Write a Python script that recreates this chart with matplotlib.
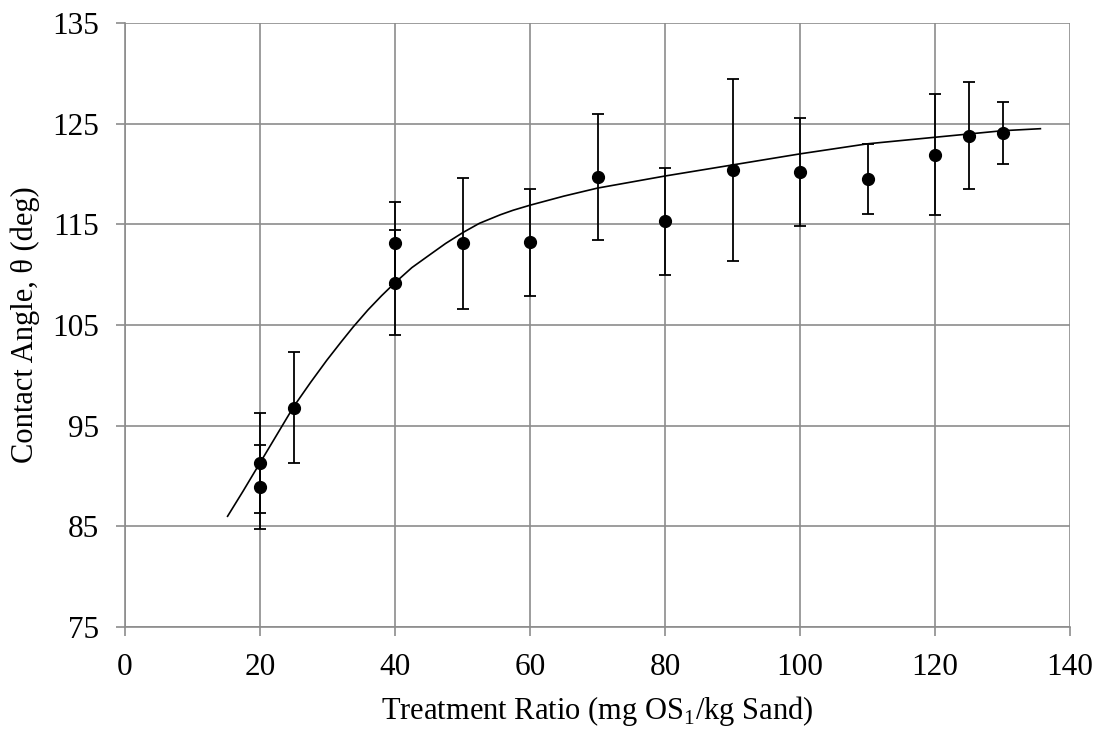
import numpy as np
import matplotlib.pyplot as plt

plt.rcParams['font.family'] = ['Liberation Serif', 'DejaVu Serif']
plt.rcParams['mathtext.fontset'] = 'custom'
plt.rcParams['mathtext.rm'] = 'Liberation Serif'

# measured points
ratio = [20, 20, 25, 40, 40, 50, 60, 70, 80, 90, 100, 110, 120, 125, 130]
angle = [91.3, 88.9, 96.8, 113.1, 109.2, 113.1, 113.2, 119.7, 115.3, 120.4, 120.2, 119.5, 121.9, 123.8, 124.1]
err = [5.0, 4.2, 5.5, 4.1, 5.2, 6.5, 5.3, 6.3, 5.3, 9.0, 5.4, 3.5, 6.0, 5.3, 3.1]

# fitted curve
fit_x = [15.2, 17.5, 20, 22.5, 25, 27.5, 29.9, 32, 33.8, 36, 38, 40, 42.5, 45.2, 47.5, 50.1,
         52.5, 55.6, 57.5, 60, 65, 70, 75, 80, 90, 100, 110, 120, 130, 135.6]
fit_y = [86.0, 88.5, 91.3, 94.1, 96.9, 99.3, 101.5, 103.3, 104.8, 106.5, 107.9, 109.2, 110.7,
         112.0, 113.1, 114.2, 115.1, 115.95, 116.4, 116.9, 117.8, 118.6, 119.2, 119.8, 120.9,
         122.0, 123.0, 123.65, 124.3, 124.5]

fig = plt.figure(figsize=(10.99, 7.30), dpi=100)
ax = fig.add_axes([0.1137, 0.1411, 0.86, 0.8274])

ax.plot(fit_x, fit_y, color='black', lw=1.2, zorder=3)
ax.errorbar(ratio, angle, yerr=err, fmt='o', color='black', ms=8.5,
            elinewidth=1.3, capsize=4.5, capthick=1.3, zorder=4)

ax.set_xlim(0, 140)
ax.set_ylim(75, 135)
ax.set_xticks(np.arange(0, 141, 20))
ax.set_yticks(np.arange(75, 136, 10))
ax.grid(True, color='#8c8c8c', lw=1.2)
ax.set_axisbelow(True)
for s in ['top', 'right']:
    ax.spines[s].set_visible(False)
for s in ['left', 'bottom']:
    ax.spines[s].set_color('#8c8c8c')
    ax.spines[s].set_linewidth(1.2)
ax.tick_params(length=6.5, width=1.2, color='#8c8c8c', labelsize=22.5)
ax.tick_params(axis='x', pad=12)
ax.tick_params(axis='y', pad=12)

ax.set_xlabel('Treatment Ratio (mg OS$_1$/kg Sand)', fontsize=22, labelpad=9)
ax.set_ylabel('Contact Angle, θ (deg)', fontsize=22, labelpad=9)

fig.savefig('out.png', dpi=100)
